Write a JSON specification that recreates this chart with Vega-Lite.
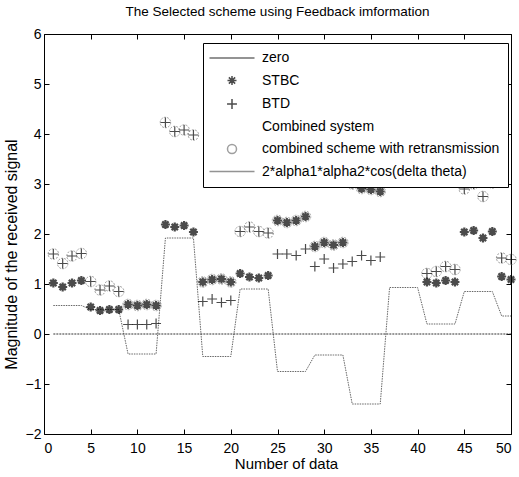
{
  "$schema": "https://vega.github.io/schema/vega-lite/v6.json",
  "width": 467,
  "height": 400,
  "autosize": {"type": "none"},
  "padding": {"left": 44, "top": 34, "right": 8, "bottom": 43},
  "title": {"text": "The Selected scheme using Feedback imformation", "font": "Liberation Sans", "fontSize": 13.5, "fontWeight": "normal", "color": "black", "offset": 9},
  "config": {
    "view": {"stroke": null},
    "axis": {"grid": false, "domainColor": "black", "tickColor": "black", "labelColor": "black", "titleColor": "black", "labelFont": "Liberation Sans", "titleFont": "Liberation Sans", "labelFontSize": 14, "titleFontSize": 15, "titleFontWeight": "normal", "tickSize": -5, "labelPadding": 8}
  },
  "datasets": {
    "zero": [{"x": 1, "series": "zero", "y": 0}, {"x": 50, "series": "zero", "y": 0}],
    "stbc": [
      {"x":1,"series":"STBC","y":1.02},{"x":2,"series":"STBC","y":0.94},{"x":3,"series":"STBC","y":1.02},{"x":4,"series":"STBC","y":1.07},
      {"x":5,"series":"STBC","y":0.54},{"x":6,"series":"STBC","y":0.47},{"x":7,"series":"STBC","y":0.49},{"x":8,"series":"STBC","y":0.49},
      {"x":9,"series":"STBC","y":0.59},{"x":10,"series":"STBC","y":0.57},{"x":11,"series":"STBC","y":0.59},{"x":12,"series":"STBC","y":0.57},
      {"x":13,"series":"STBC","y":2.19},{"x":14,"series":"STBC","y":2.14},{"x":15,"series":"STBC","y":2.17},{"x":16,"series":"STBC","y":2.04},
      {"x":17,"series":"STBC","y":1.04},{"x":18,"series":"STBC","y":1.09},{"x":19,"series":"STBC","y":1.1},{"x":20,"series":"STBC","y":1.04},
      {"x":21,"series":"STBC","y":1.21},{"x":22,"series":"STBC","y":1.14},{"x":23,"series":"STBC","y":1.12},{"x":24,"series":"STBC","y":1.17},
      {"x":25,"series":"STBC","y":2.27},{"x":26,"series":"STBC","y":2.23},{"x":27,"series":"STBC","y":2.27},{"x":28,"series":"STBC","y":2.35},
      {"x":29,"series":"STBC","y":1.75},{"x":30,"series":"STBC","y":1.83},{"x":31,"series":"STBC","y":1.78},{"x":32,"series":"STBC","y":1.83},
      {"x":33,"series":"STBC","y":3.0},{"x":34,"series":"STBC","y":2.91},{"x":35,"series":"STBC","y":2.89},{"x":36,"series":"STBC","y":2.85},
      {"x":41,"series":"STBC","y":1.04},{"x":42,"series":"STBC","y":1.02},{"x":43,"series":"STBC","y":1.07},{"x":44,"series":"STBC","y":1.04},
      {"x":45,"series":"STBC","y":2.04},{"x":46,"series":"STBC","y":2.07},{"x":47,"series":"STBC","y":1.92},{"x":48,"series":"STBC","y":2.05},
      {"x":49,"series":"STBC","y":1.15},{"x":50,"series":"STBC","y":1.09}
    ],
    "btd": [
      {"x":1,"series":"BTD","y":1.6},{"x":2,"series":"BTD","y":1.41},{"x":3,"series":"BTD","y":1.56},{"x":4,"series":"BTD","y":1.61},
      {"x":5,"series":"BTD","y":1.05},{"x":6,"series":"BTD","y":0.88},{"x":7,"series":"BTD","y":0.96},{"x":8,"series":"BTD","y":0.85},
      {"x":9,"series":"BTD","y":0.19},{"x":10,"series":"BTD","y":0.19},{"x":11,"series":"BTD","y":0.19},{"x":12,"series":"BTD","y":0.21},
      {"x":13,"series":"BTD","y":4.23},{"x":14,"series":"BTD","y":4.05},{"x":15,"series":"BTD","y":4.08},{"x":16,"series":"BTD","y":3.98},
      {"x":17,"series":"BTD","y":0.65},{"x":18,"series":"BTD","y":0.7},{"x":19,"series":"BTD","y":0.63},{"x":20,"series":"BTD","y":0.67},
      {"x":21,"series":"BTD","y":2.05},{"x":22,"series":"BTD","y":2.14},{"x":23,"series":"BTD","y":2.05},{"x":24,"series":"BTD","y":2.02},
      {"x":25,"series":"BTD","y":1.6},{"x":26,"series":"BTD","y":1.6},{"x":27,"series":"BTD","y":1.57},{"x":28,"series":"BTD","y":1.7},
      {"x":29,"series":"BTD","y":1.35},{"x":30,"series":"BTD","y":1.5},{"x":31,"series":"BTD","y":1.32},{"x":32,"series":"BTD","y":1.4},
      {"x":33,"series":"BTD","y":1.45},{"x":34,"series":"BTD","y":1.57},{"x":35,"series":"BTD","y":1.47},{"x":36,"series":"BTD","y":1.54},
      {"x":41,"series":"BTD","y":1.21},{"x":42,"series":"BTD","y":1.25},{"x":43,"series":"BTD","y":1.35},{"x":44,"series":"BTD","y":1.29},
      {"x":45,"series":"BTD","y":2.9},{"x":46,"series":"BTD","y":3.0},{"x":47,"series":"BTD","y":2.75},{"x":48,"series":"BTD","y":3.02},
      {"x":49,"series":"BTD","y":1.52},{"x":50,"series":"BTD","y":1.49}
    ],
    "comb": [
      {"x":1,"series":"combined scheme with retransmission","y":1.6},{"x":2,"series":"combined scheme with retransmission","y":1.41},{"x":3,"series":"combined scheme with retransmission","y":1.56},{"x":4,"series":"combined scheme with retransmission","y":1.61},
      {"x":5,"series":"combined scheme with retransmission","y":1.05},{"x":6,"series":"combined scheme with retransmission","y":0.88},{"x":7,"series":"combined scheme with retransmission","y":0.96},{"x":8,"series":"combined scheme with retransmission","y":0.85},
      {"x":9,"series":"combined scheme with retransmission","y":0.59},{"x":10,"series":"combined scheme with retransmission","y":0.57},{"x":11,"series":"combined scheme with retransmission","y":0.59},{"x":12,"series":"combined scheme with retransmission","y":0.57},
      {"x":13,"series":"combined scheme with retransmission","y":4.23},{"x":14,"series":"combined scheme with retransmission","y":4.05},{"x":15,"series":"combined scheme with retransmission","y":4.08},{"x":16,"series":"combined scheme with retransmission","y":3.98},
      {"x":17,"series":"combined scheme with retransmission","y":1.04},{"x":18,"series":"combined scheme with retransmission","y":1.09},{"x":19,"series":"combined scheme with retransmission","y":1.1},{"x":20,"series":"combined scheme with retransmission","y":1.04},
      {"x":21,"series":"combined scheme with retransmission","y":2.05},{"x":22,"series":"combined scheme with retransmission","y":2.14},{"x":23,"series":"combined scheme with retransmission","y":2.05},{"x":24,"series":"combined scheme with retransmission","y":2.02},
      {"x":25,"series":"combined scheme with retransmission","y":2.27},{"x":26,"series":"combined scheme with retransmission","y":2.23},{"x":27,"series":"combined scheme with retransmission","y":2.27},{"x":28,"series":"combined scheme with retransmission","y":2.35},
      {"x":29,"series":"combined scheme with retransmission","y":1.75},{"x":30,"series":"combined scheme with retransmission","y":1.83},{"x":31,"series":"combined scheme with retransmission","y":1.78},{"x":32,"series":"combined scheme with retransmission","y":1.83},
      {"x":33,"series":"combined scheme with retransmission","y":3.0},{"x":34,"series":"combined scheme with retransmission","y":2.91},{"x":35,"series":"combined scheme with retransmission","y":2.89},{"x":36,"series":"combined scheme with retransmission","y":2.85},
      {"x":41,"series":"combined scheme with retransmission","y":1.21},{"x":42,"series":"combined scheme with retransmission","y":1.25},{"x":43,"series":"combined scheme with retransmission","y":1.35},{"x":44,"series":"combined scheme with retransmission","y":1.29},
      {"x":45,"series":"combined scheme with retransmission","y":2.9},{"x":46,"series":"combined scheme with retransmission","y":3.0},{"x":47,"series":"combined scheme with retransmission","y":2.75},{"x":48,"series":"combined scheme with retransmission","y":3.02},
      {"x":49,"series":"combined scheme with retransmission","y":1.52},{"x":50,"series":"combined scheme with retransmission","y":1.49}
    ],
    "cos": [
      {"x":1,"series":"2*alpha1*alpha2*cos(delta theta)","y":0.57},{"x":2,"series":"2*alpha1*alpha2*cos(delta theta)","y":0.57},{"x":3,"series":"2*alpha1*alpha2*cos(delta theta)","y":0.57},{"x":4,"series":"2*alpha1*alpha2*cos(delta theta)","y":0.57},
      {"x":5,"series":"2*alpha1*alpha2*cos(delta theta)","y":0.49},{"x":6,"series":"2*alpha1*alpha2*cos(delta theta)","y":0.49},{"x":7,"series":"2*alpha1*alpha2*cos(delta theta)","y":0.49},{"x":8,"series":"2*alpha1*alpha2*cos(delta theta)","y":0.49},
      {"x":9,"series":"2*alpha1*alpha2*cos(delta theta)","y":-0.4},{"x":10,"series":"2*alpha1*alpha2*cos(delta theta)","y":-0.4},{"x":11,"series":"2*alpha1*alpha2*cos(delta theta)","y":-0.4},{"x":12,"series":"2*alpha1*alpha2*cos(delta theta)","y":-0.4},
      {"x":13,"series":"2*alpha1*alpha2*cos(delta theta)","y":1.92},{"x":14,"series":"2*alpha1*alpha2*cos(delta theta)","y":1.92},{"x":15,"series":"2*alpha1*alpha2*cos(delta theta)","y":1.92},{"x":16,"series":"2*alpha1*alpha2*cos(delta theta)","y":1.92},
      {"x":17,"series":"2*alpha1*alpha2*cos(delta theta)","y":-0.45},{"x":18,"series":"2*alpha1*alpha2*cos(delta theta)","y":-0.45},{"x":19,"series":"2*alpha1*alpha2*cos(delta theta)","y":-0.45},{"x":20,"series":"2*alpha1*alpha2*cos(delta theta)","y":-0.45},
      {"x":21,"series":"2*alpha1*alpha2*cos(delta theta)","y":0.9},{"x":22,"series":"2*alpha1*alpha2*cos(delta theta)","y":0.9},{"x":23,"series":"2*alpha1*alpha2*cos(delta theta)","y":0.9},{"x":24,"series":"2*alpha1*alpha2*cos(delta theta)","y":0.9},
      {"x":25,"series":"2*alpha1*alpha2*cos(delta theta)","y":-0.75},{"x":26,"series":"2*alpha1*alpha2*cos(delta theta)","y":-0.75},{"x":27,"series":"2*alpha1*alpha2*cos(delta theta)","y":-0.75},{"x":28,"series":"2*alpha1*alpha2*cos(delta theta)","y":-0.75},
      {"x":29,"series":"2*alpha1*alpha2*cos(delta theta)","y":-0.42},{"x":30,"series":"2*alpha1*alpha2*cos(delta theta)","y":-0.42},{"x":31,"series":"2*alpha1*alpha2*cos(delta theta)","y":-0.42},{"x":32,"series":"2*alpha1*alpha2*cos(delta theta)","y":-0.42},
      {"x":33,"series":"2*alpha1*alpha2*cos(delta theta)","y":-1.4},{"x":34,"series":"2*alpha1*alpha2*cos(delta theta)","y":-1.4},{"x":35,"series":"2*alpha1*alpha2*cos(delta theta)","y":-1.4},{"x":36,"series":"2*alpha1*alpha2*cos(delta theta)","y":-1.4},
      {"x":37,"series":"2*alpha1*alpha2*cos(delta theta)","y":0.93},{"x":38,"series":"2*alpha1*alpha2*cos(delta theta)","y":0.93},{"x":39,"series":"2*alpha1*alpha2*cos(delta theta)","y":0.93},{"x":40,"series":"2*alpha1*alpha2*cos(delta theta)","y":0.93},
      {"x":41,"series":"2*alpha1*alpha2*cos(delta theta)","y":0.2},{"x":42,"series":"2*alpha1*alpha2*cos(delta theta)","y":0.2},{"x":43,"series":"2*alpha1*alpha2*cos(delta theta)","y":0.2},{"x":44,"series":"2*alpha1*alpha2*cos(delta theta)","y":0.2},
      {"x":45,"series":"2*alpha1*alpha2*cos(delta theta)","y":0.85},{"x":46,"series":"2*alpha1*alpha2*cos(delta theta)","y":0.85},{"x":47,"series":"2*alpha1*alpha2*cos(delta theta)","y":0.85},{"x":48,"series":"2*alpha1*alpha2*cos(delta theta)","y":0.85},
      {"x":49,"series":"2*alpha1*alpha2*cos(delta theta)","y":0.36},{"x":50,"series":"2*alpha1*alpha2*cos(delta theta)","y":0.36}
    ]
  },
  "layer": [
    {
      "layer": [
        {
          "data": {"name": "cos"},
          "mark": {"type": "line", "strokeWidth": 1, "strokeDash": [1.5, 1]},
          "encoding": {
            "x": {"field": "x", "type": "quantitative", "scale": {"domain": [0, 50], "nice": false, "zero": false}, "axis": {"values": [0,5,10,15,20,25,30,35,40,45,50], "title": "Number of data", "labelPadding": 12, "titlePadding": 1, "titleX": 242}},
            "y": {"field": "y", "type": "quantitative", "scale": {"domain": [-2, 6], "nice": false, "zero": false}, "axis": {"values": [-2,-1,0,1,2,3,4,5,6], "title": "Magnitude of the received signal", "titlePadding": 6, "titleFontSize": 16, "titleY": 220}},
            "stroke": {"field": "series", "type": "nominal",
              "scale": {"domain": ["zero","STBC","BTD","Combined system","combined scheme with retransmission","2*alpha1*alpha2*cos(delta theta)"], "range": ["#333333","black","black","white","#777777","#666666"]},
              "legend": {"orient": "none", "legendX": 159, "legendY": 9, "title": null, "padding": 8, "strokeColor": "black", "fillColor": "white", "symbolSize": 81, "symbolStrokeWidth": 1.5, "symbolOffset": 14, "labelOffset": 23, "labelFont": "Liberation Sans", "labelFontSize": 14, "labelColor": "black", "labelLimit": 400, "rowPadding": 7.5}}
          }
        },
        {
          "data": {"name": "comb"},
          "mark": {"type": "point", "filled": false, "size": 110, "strokeWidth": 1, "strokeDash": [2, 1.2]},
          "encoding": {
            "x": {"field": "x", "type": "quantitative"},
            "y": {"field": "y", "type": "quantitative"},
            "stroke": {"field": "series", "type": "nominal"},
            "shape": {"field": "series", "type": "nominal",
              "scale": {"domain": ["zero","STBC","BTD","Combined system","combined scheme with retransmission","2*alpha1*alpha2*cos(delta theta)"], "range": ["M-5,0L5,0","M-1,0L1,0M0,-1L0,1M-0.7,-0.7L0.7,0.7M-0.7,0.7L0.7,-0.7","M-1.1,0L1.1,0M0,-1.1L0,1.1","M0,0","circle","M-5,0L5,0"]},
              "legend": {"orient": "none", "legendX": 159, "legendY": 9, "title": null, "padding": 8, "strokeColor": "black", "fillColor": "white", "symbolSize": 81, "symbolStrokeWidth": 1.5, "symbolOffset": 14, "labelOffset": 23, "labelFont": "Liberation Sans", "labelFontSize": 14, "labelColor": "black", "labelLimit": 400, "rowPadding": 7.5}}
          }
        },
        {
          "data": {"name": "stbc"},
          "mark": {"type": "point", "filled": false, "size": 81, "strokeWidth": 2.2},
          "encoding": {
            "x": {"field": "x", "type": "quantitative"},
            "y": {"field": "y", "type": "quantitative"},
            "stroke": {"field": "series", "type": "nominal"},
            "shape": {"field": "series", "type": "nominal"}
          }
        },
        {
          "data": {"name": "btd"},
          "mark": {"type": "point", "filled": false, "size": 81, "strokeWidth": 1.2},
          "encoding": {
            "x": {"field": "x", "type": "quantitative"},
            "y": {"field": "y", "type": "quantitative"},
            "stroke": {"field": "series", "type": "nominal"},
            "shape": {"field": "series", "type": "nominal"}
          }
        }
      ]
    },
    {
      "data": {"name": "zero"},
      "mark": {"type": "line", "strokeWidth": 1, "strokeDash": [2, 1]},
      "encoding": {
        "x": {"field": "x", "type": "quantitative", "axis": {"orient": "top", "values": [0,5,10,15,20,25,30,35,40,45,50], "labels": false, "title": null}},
        "y": {"field": "y", "type": "quantitative", "axis": {"orient": "right", "values": [-2,-1,0,1,2,3,4,5,6], "labels": false, "title": null}},
        "stroke": {"field": "series", "type": "nominal"}
      }
    }
  ],
  "resolve": {"axis": {"x": "independent", "y": "independent"}}
}
